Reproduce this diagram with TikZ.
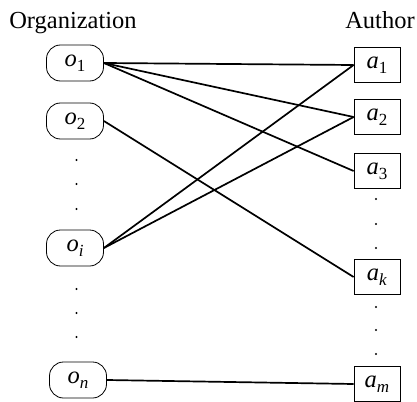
\documentclass[tikz,border=0pt]{standalone}
\usepackage{fontspec}
\setmainfont{Liberation Serif}
\newcommand{\lbl}[2]{\textit{#1}\raisebox{-5pt}{\fontsize{17}{17}\selectfont #2}}
\begin{document}
\begin{tikzpicture}[x=1pt,y=-1pt,
  every node/.style={font=\fontsize{24.5}{29}\selectfont},
  orgbox/.style={draw,line width=0.8pt,rounded corners=14pt,minimum width=57pt,minimum height=36pt,inner sep=0pt},
  authbox/.style={draw,line width=0.8pt,minimum width=46pt,minimum height=35pt,inner sep=0pt},
  edge/.style={line width=1.7pt},
  vdot/.style={fill=black,circle,inner sep=0pt,minimum size=2.4pt}]
\useasboundingbox (0,0) rectangle (417,401);
\node[anchor=base] (orgtitle) at (73,29) {Organization};
\node[anchor=base] (authtitle) at (380,29) {Author};
\node[orgbox] (o1) at (75,63) {\lbl{o}{1}};
\node[orgbox] (o2) at (75,121) {\lbl{o}{2}};
\node[orgbox] (oi) at (75,248) {\lbl{o}{\textit{i}}};
\node[orgbox] (on) at (78,380) {\lbl{o}{\textit{n}}};
\node[authbox] (a1) at (377,65) {\lbl{a}{1}};
\node[authbox] (a2) at (377,117) {\lbl{a}{2}};
\node[authbox] (a3) at (377,171) {\lbl{a}{3}};
\node[authbox] (ak) at (377,277) {\lbl{a}{\textit{k}}};
\node[authbox] (am) at (377,384) {\lbl{a}{\textit{m}}};
\foreach \y [count=\i] in {160,184,209,289,313,337} {\node[vdot] (od\i) at (76.5,\y) {};}
\foreach \y [count=\i] in {199,224,248,307,330,354} {\node[vdot] (ad\i) at (376,\y) {};}
\draw[edge] (o1.east) -- (a1.west);
\draw[edge] (o1.east) -- (a2.west);
\draw[edge] (o1.east) -- (a3.west);
\draw[edge] (o2.east) -- (ak.west);
\draw[edge] (oi.east) -- (a1.west);
\draw[edge] (oi.east) -- (a2.west);
\draw[edge] (on.east) -- (am.west);
\end{tikzpicture}
\end{document}
